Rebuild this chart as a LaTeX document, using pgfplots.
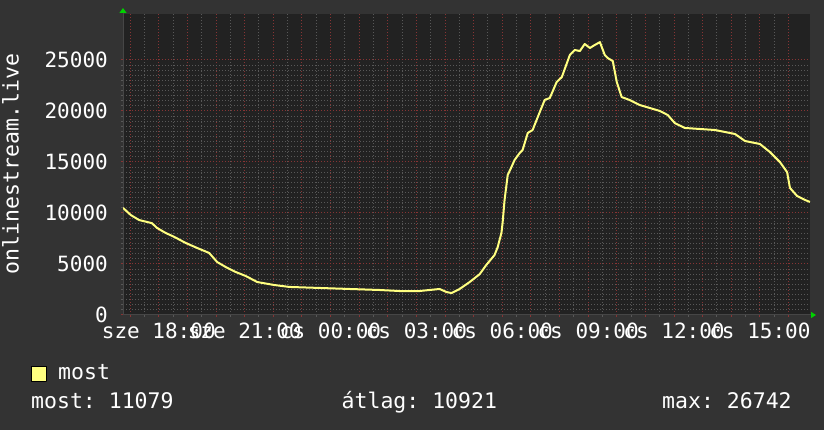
\documentclass[border=0pt]{standalone}
\usepackage{fontspec}
\setmainfont{DejaVu Sans Mono}
\usepackage{pgfplots}
\pgfplotsset{compat=1.18}
\usetikzlibrary{arrows.meta}
\definecolor{bgc}{RGB}{51,51,51}
\definecolor{canvas}{RGB}{34,34,34}
\definecolor{majgrid}{RGB}{135,52,52}
\definecolor{mingrid}{RGB}{88,88,88}
\definecolor{lineyellow}{RGB}{255,255,128}
\definecolor{axisgrey}{RGB}{70,70,70}
\definecolor{arrowgreen}{RGB}{0,210,0}
\frenchspacing
\begin{document}
\fontsize{21}{25}\selectfont
\begin{tikzpicture}[x=1pt,y=1pt]
\fill[bgc] (0,0) rectangle (824,430);
\useasboundingbox (0,0) rectangle (824,430);
\begin{axis}[
  at={(123pt,115pt)}, anchor=south west,
  width=687pt, height=301pt, scale only axis,
  xmin=16.75, xmax=40.75, ymin=0, ymax=29500,
  axis lines=left,
  axis background/.style={fill=canvas},
  axis line style={draw=axisgrey, line width=1pt},
  x axis line style={-{Triangle[length=5pt,width=6pt,color=arrowgreen]}, shorten >=-6pt},
  y axis line style={-{Triangle[length=5pt,width=7pt,color=arrowgreen]}, shorten >=-6pt},
  xtick={17,...,40},
  xticklabels={,sze 18:00,,,sze 21:00,,,cs 00:00,,,cs 03:00,,,cs 06:00,,,cs 09:00,,,cs 12:00,,,cs 15:00,},
  minor x tick num=1,
  ytick={0,5000,10000,15000,20000,25000},
  minor y tick num=9,
  scaled y ticks=false,
  grid=both,
  major grid style={draw=majgrid, line width=1pt, dash pattern=on 1pt off 2pt},
  minor grid style={draw=mingrid, line width=1pt, dash pattern=on 1pt off 2pt},
  tick align=outside,
  major tick length=2pt, minor tick length=2pt,
  major tick style={draw=majgrid, line width=1pt},
  minor tick style={draw=mingrid, line width=1pt},
  tick label style={font=\fontsize{21}{25}\selectfont, text=white, inner sep=0pt},
  /pgf/number format/assume math mode=true,
  yticklabel style={/pgf/number format/1000 sep={}, anchor=east, xshift=-13pt},
  xticklabel style={anchor=north, yshift=-6pt},
  legend style={at={(axis description cs:-0.1339,-0.196)}, anchor=west, draw=none, fill=none, inner sep=0pt,
    font=\fontsize{21.5}{25}\selectfont, text=white, nodes={inner sep=0pt},
    /tikz/every odd column/.append style={column sep=11pt}},
  legend cell align=left,
  legend image code/.code={\draw[fill=lineyellow,draw=black,line width=1pt] (0pt,-8pt) rectangle (15pt,7pt);},
]
\addplot[lineyellow, line width=2pt, line join=round] coordinates {
(16.75,10500) (17.02,9800) (17.31,9310) (17.76,9000) (17.94,8530) (18.24,8040)
(18.53,7670) (18.94,7060) (19.34,6570) (19.76,6080) (20.04,5190) (20.34,4700)
(20.69,4210) (21.04,3820) (21.44,3230) (22.03,2940) (22.56,2750) (23.61,2650)
(24.66,2550) (25.71,2450) (26.41,2350) (27.11,2350) (27.46,2450) (27.81,2550)
(28.05,2250) (28.23,2150) (28.51,2550) (28.86,3230) (29.21,4000) (29.44,4900)
(29.73,5880) (29.84,6660) (29.97,8040) (30.01,9000) (30.08,11270) (30.19,13720)
(30.32,14500) (30.43,15190) (30.61,15880) (30.71,16170) (30.89,17840) (31.06,18130)
(31.24,19400) (31.48,21070) (31.66,21270) (31.90,22830) (32.08,23320) (32.36,25480)
(32.53,25970) (32.71,25870) (32.88,26560) (33.06,26170) (33.23,26460) (33.41,26742)
(33.58,25480) (33.68,25190) (33.86,24890) (34.00,22830) (34.17,21360) (34.45,21070)
(34.80,20580) (35.15,20290) (35.50,20000) (35.78,19600) (36.03,18800) (36.38,18330)
(36.90,18230) (37.43,18130) (38.13,17740) (38.48,17050) (39.00,16760) (39.35,15970)
(39.70,14990) (39.95,14000) (40.05,12450) (40.30,11660) (40.58,11270) (40.75,11079)
};
\legend{most}
\end{axis}
\node[rotate=90, anchor=base, text=white, inner sep=0pt, font=\fontsize{21.5}{25}\selectfont] at (18.5,266) {onlinestream.live};
\node[anchor=base west, text=white, inner sep=0pt, font=\fontsize{21.5}{25}\selectfont] at (31,21) {most: 11079};
\node[anchor=base west, text=white, inner sep=0pt, font=\fontsize{21.5}{25}\selectfont] at (341.5,21) {átlag: 10921};
\node[anchor=base west, text=white, inner sep=0pt, font=\fontsize{21.5}{25}\selectfont] at (662,21) {max: 26742};
\end{tikzpicture}
\end{document}
